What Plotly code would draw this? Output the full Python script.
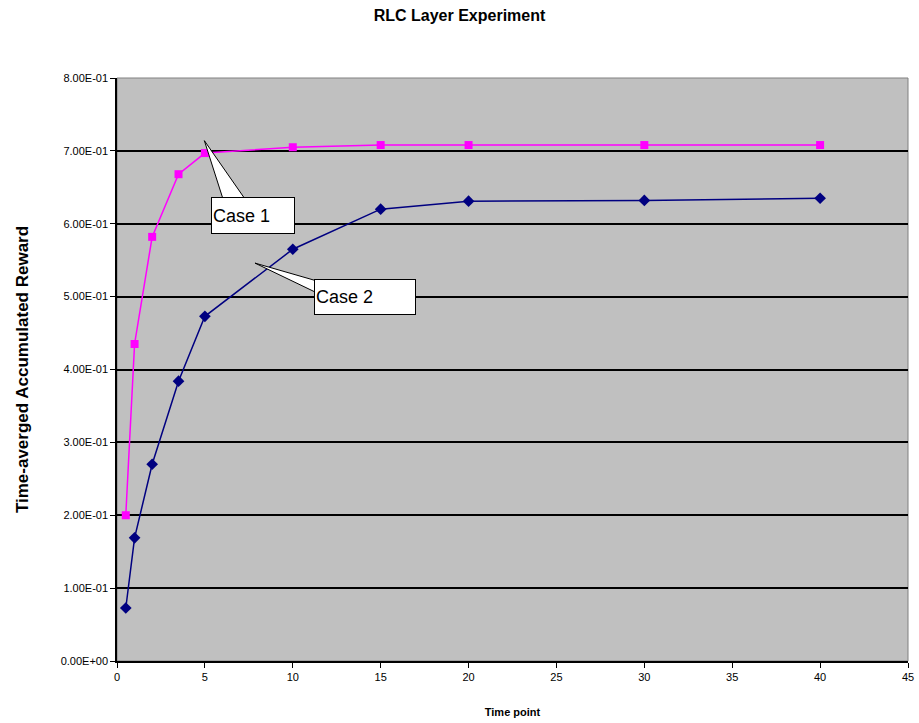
import plotly.graph_objects as go

# Time points and the two reward series
time_points = [0.5, 1, 2, 3.5, 5, 10, 15, 20, 30, 40]
case1 = [0.200, 0.435, 0.582, 0.668, 0.697, 0.705, 0.708, 0.708, 0.708, 0.708]
case2 = [0.0727, 0.169, 0.270, 0.384, 0.473, 0.565, 0.620, 0.631, 0.632, 0.635]

y_ticks = [0.0, 0.1, 0.2, 0.3, 0.4, 0.5, 0.6, 0.7, 0.8]
y_tick_text = ["0.00E+00", "1.00E-01", "2.00E-01", "3.00E-01", "4.00E-01",
               "5.00E-01", "6.00E-01", "7.00E-01", "8.00E-01"]
x_ticks = [0, 5, 10, 15, 20, 25, 30, 35, 40, 45]

FONT = "Liberation Sans, Arial, sans-serif"

fig = go.Figure()
fig.add_trace(go.Scatter(
    x=time_points, y=case2, mode="lines+markers", name="Case 2",
    line=dict(color="#000080", width=1.5),
    marker=dict(symbol="diamond", size=9, color="#000080"),
))
fig.add_trace(go.Scatter(
    x=time_points, y=case1, mode="lines+markers", name="Case 1",
    line=dict(color="#FF00FF", width=1.5),
    marker=dict(symbol="square", size=8, color="#FF00FF"),
))

# Callout wedges (drawn beneath the label boxes)
wedge_style = dict(type="path", xref="x", yref="y", fillcolor="white",
                   line=dict(color="black", width=1), layer="above")
fig.add_shape(path="M 4.97 0.714 L 6.03 0.634 L 7.28 0.634 Z", **wedge_style)
fig.add_shape(path="M 7.85 0.546 L 11.3 0.522 L 11.3 0.506 Z", **wedge_style)

# Callout boxes
fig.add_annotation(x=7.76, y=0.612, xref="x", yref="y", text="Case 1",
                   showarrow=False, font=dict(family=FONT, size=18, color="black"),
                   bgcolor="white", bordercolor="black", borderwidth=1,
                   width=80, height=33, align="left", xanchor="center", yanchor="middle")
fig.add_annotation(x=14.08, y=0.4993, xref="x", yref="y", text="Case 2",
                   showarrow=False, font=dict(family=FONT, size=18, color="black"),
                   bgcolor="white", bordercolor="black", borderwidth=1,
                   width=98, height=32, align="left", xanchor="center", yanchor="middle")

# Plot area frame
fig.add_shape(type="rect", xref="paper", yref="paper", x0=0, y0=0, x1=1, y1=1,
              line=dict(color="#808080", width=1), layer="below")

fig.update_layout(
    width=919, height=723,
    margin=dict(l=117, r=11, t=78, b=62),
    paper_bgcolor="white", plot_bgcolor="#C0C0C0",
    showlegend=False,
    title=dict(text="<b>RLC Layer Experiment</b>", x=0.5, xanchor="center",
               y=0.979, yanchor="middle",
               font=dict(family=FONT, size=16, color="black")),
    font=dict(family=FONT, size=11, color="black"),
)
fig.update_xaxes(
    range=[0, 45], tickvals=x_ticks, ticks="outside", ticklen=5,
    tickcolor="black", showline=True, linecolor="black", linewidth=1.5,
    showgrid=False, zeroline=False, automargin=False,
    tickfont=dict(family=FONT, size=11),
    title=dict(text="<b>Time point</b>", font=dict(family=FONT, size=11), standoff=26),
)
fig.update_yaxes(
    range=[0, 0.8], tickvals=y_ticks, ticktext=y_tick_text, ticks="outside",
    ticklen=5, tickcolor="black", showline=True, linecolor="black", linewidth=1.5,
    showgrid=True, gridcolor="black", gridwidth=1.5, zeroline=False, automargin=False,
    tickfont=dict(family=FONT, size=11),
    title=dict(text="<b>Time-averged Accumulated Reward</b>",
               font=dict(family=FONT, size=17), standoff=28),
)

fig.write_html("out.html")
